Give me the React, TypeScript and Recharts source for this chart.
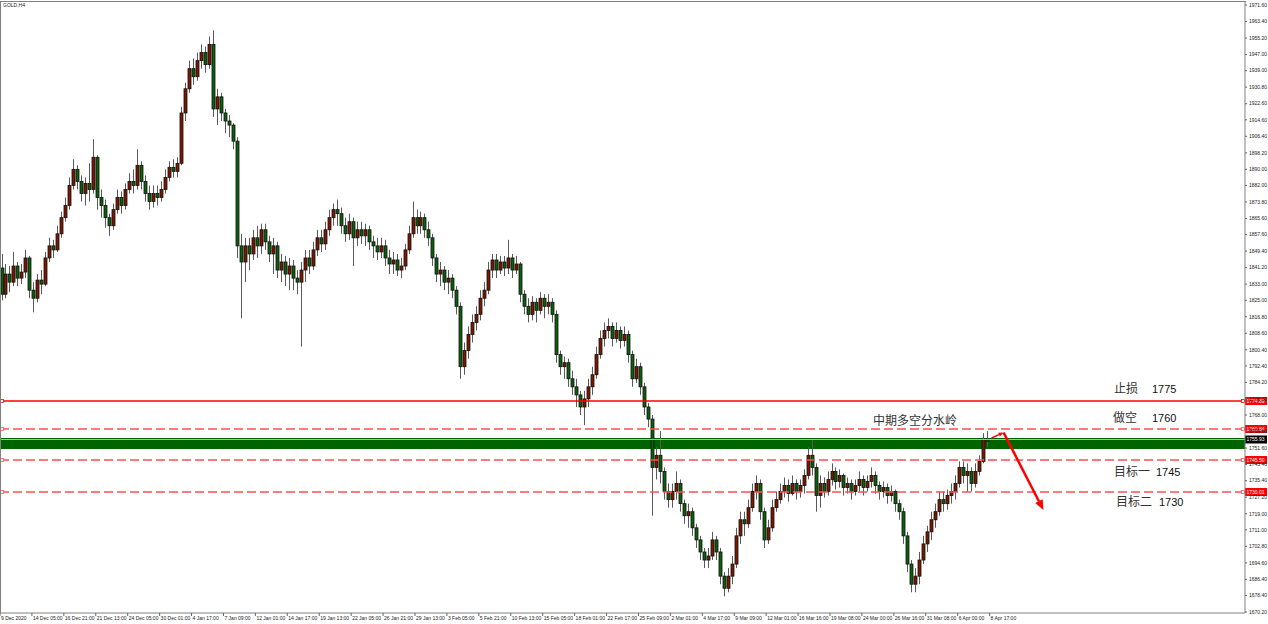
import { ComposedChart, Bar, XAxis, YAxis, ReferenceLine, ReferenceArea } from 'recharts'

// GOLD H4, one slot per candle
const FIRST_OPEN = 1841
const CLOSES = [
  1828, 1838, 1834, 1842, 1836, 1839, 1846, 1830, 1826, 1835,
  1833, 1846, 1852, 1850, 1858, 1866, 1872, 1882, 1890, 1884,
  1878, 1883, 1880, 1896, 1876, 1872, 1866, 1862, 1870, 1876,
  1872, 1880, 1884, 1882, 1892, 1884, 1878, 1874, 1878, 1876,
  1880, 1886, 1891, 1889, 1893, 1918, 1930, 1940, 1936, 1944,
  1948, 1942, 1952, 1920, 1926, 1918, 1914, 1912, 1904, 1852,
  1844, 1852, 1848, 1856, 1852, 1860, 1854, 1848, 1852, 1840,
  1844, 1838, 1842, 1836, 1834, 1840, 1846, 1842, 1850, 1856,
  1853, 1860, 1866, 1870, 1868, 1862, 1858, 1864, 1856, 1860,
  1857, 1860, 1854, 1852, 1849, 1852, 1846, 1843, 1845, 1840,
  1842, 1850, 1858, 1866, 1862, 1866, 1860, 1856, 1846, 1838,
  1840, 1834, 1836, 1830, 1822, 1792, 1800, 1808, 1814, 1818,
  1826, 1830, 1840, 1845, 1840, 1844, 1841, 1846, 1840, 1843,
  1828, 1822, 1818, 1824, 1820, 1826, 1822, 1824, 1818, 1798,
  1792, 1794, 1786, 1782, 1778, 1772, 1776, 1782, 1788, 1798,
  1806, 1810, 1812, 1806, 1810, 1805, 1808, 1798, 1786, 1792,
  1782, 1772, 1766, 1742, 1748, 1740, 1730, 1726, 1730, 1734,
  1724, 1718, 1720, 1712, 1706, 1700, 1696, 1698, 1706, 1700,
  1688, 1682, 1688, 1694, 1708, 1716, 1714, 1722, 1730, 1734,
  1720, 1706, 1712, 1722, 1726, 1730, 1733, 1729, 1734, 1730,
  1733, 1738, 1748, 1742, 1728, 1734, 1730, 1736, 1740, 1735,
  1738, 1732, 1734, 1730, 1733, 1736, 1732, 1735, 1738, 1733,
  1730, 1732, 1728, 1730, 1724, 1720, 1708, 1694, 1684, 1688,
  1696, 1704, 1710, 1716, 1720, 1726, 1724, 1728, 1730, 1734,
  1742, 1738, 1740, 1734, 1740, 1745, 1756, 1755,
]
const HIGHS = [
  1848, 1843, 1842, 1849, 1844, 1843, 1850, 1847, 1834, 1838,
  1840, 1849, 1856, 1855, 1862, 1869, 1876, 1886, 1895, 1892,
  1887, 1886, 1893, 1905, 1897, 1880, 1875, 1868, 1873, 1880,
  1879, 1883, 1888, 1890, 1900, 1894, 1887, 1882, 1882, 1882,
  1884, 1890, 1894, 1895, 1896, 1921, 1933, 1944, 1945, 1948,
  1952, 1951, 1956, 1959, 1930, 1928, 1920, 1917, 1913, 1906,
  1858, 1856, 1856, 1860, 1862, 1863, 1863, 1857, 1856, 1854,
  1848, 1847, 1846, 1845, 1840, 1844, 1850, 1850, 1854, 1860,
  1860, 1864, 1870, 1873, 1875, 1871, 1866, 1868, 1866, 1864,
  1864, 1863, 1862, 1857, 1856, 1856, 1855, 1850, 1849, 1848,
  1846, 1853, 1862, 1874, 1870, 1869, 1868, 1864, 1858, 1848,
  1844, 1842, 1840, 1838, 1832, 1824, 1804, 1812, 1818, 1822,
  1830, 1834, 1844, 1848, 1848, 1847, 1847, 1855, 1848, 1847,
  1844, 1830, 1826, 1827, 1826, 1829, 1828, 1828, 1826, 1820,
  1800, 1797, 1796, 1790, 1786, 1780, 1780, 1786, 1792, 1802,
  1810, 1814, 1816, 1814, 1814, 1812, 1812, 1810, 1800, 1796,
  1794, 1784, 1774, 1768, 1752, 1760, 1742, 1734, 1734, 1740,
  1736, 1726, 1724, 1722, 1714, 1708, 1702, 1702, 1710, 1708,
  1702, 1690, 1692, 1698, 1712, 1720, 1720, 1726, 1734, 1738,
  1736, 1722, 1716, 1726, 1730, 1734, 1737, 1736, 1738, 1736,
  1736, 1741, 1752, 1756, 1744, 1738, 1737, 1740, 1744, 1742,
  1741, 1739, 1737, 1736, 1736, 1740, 1738, 1738, 1742, 1740,
  1735, 1735, 1734, 1733, 1731, 1726, 1722, 1710, 1696, 1692,
  1700, 1708, 1713, 1720, 1724, 1730, 1730, 1731, 1734, 1738,
  1745, 1745, 1744, 1742, 1744, 1748, 1759, 1760,
]
const LOWS = [
  1825, 1826, 1829, 1832, 1832, 1833, 1836, 1826, 1819, 1824,
  1828, 1832, 1844, 1846, 1849, 1856, 1864, 1870, 1880, 1880,
  1874, 1872, 1874, 1878, 1870, 1866, 1861, 1857, 1860, 1868,
  1868, 1870, 1878, 1878, 1880, 1880, 1874, 1870, 1871, 1872,
  1874, 1878, 1884, 1886, 1886, 1892, 1914, 1928, 1932, 1934,
  1940, 1938, 1940, 1916, 1912, 1914, 1908, 1906, 1900, 1846,
  1816, 1834, 1840, 1845, 1846, 1848, 1850, 1844, 1838, 1836,
  1834, 1832, 1830, 1830, 1828, 1802, 1834, 1838, 1840, 1847,
  1849, 1850, 1857, 1862, 1862, 1858, 1854, 1855, 1842, 1852,
  1853, 1852, 1850, 1846, 1845, 1846, 1842, 1838, 1838, 1837,
  1836, 1840, 1848, 1856, 1858, 1858, 1856, 1852, 1842, 1834,
  1832, 1830, 1828, 1826, 1818, 1786, 1788, 1796, 1804, 1810,
  1815, 1822, 1828, 1836, 1836, 1838, 1837, 1838, 1836, 1838,
  1824, 1818, 1814, 1815, 1814, 1818, 1816, 1818, 1814, 1794,
  1788, 1786, 1782, 1778, 1772, 1768, 1763, 1772, 1778, 1786,
  1796, 1802, 1806, 1802, 1804, 1801, 1802, 1794, 1782, 1784,
  1778, 1768, 1762, 1718, 1736, 1734, 1726, 1722, 1722, 1726,
  1720, 1714, 1712, 1708, 1702, 1696, 1692, 1692, 1696, 1696,
  1684, 1678, 1680, 1684, 1692, 1704, 1708, 1712, 1720, 1726,
  1716, 1702, 1704, 1710, 1720, 1724, 1727, 1725, 1728, 1726,
  1727, 1729, 1736, 1738, 1720, 1722, 1727, 1728, 1733, 1731,
  1732, 1728, 1729, 1726, 1728, 1730, 1728, 1730, 1732, 1729,
  1726, 1727, 1724, 1725, 1720, 1716, 1704, 1690, 1680, 1680,
  1684, 1694, 1700, 1706, 1712, 1718, 1720, 1721, 1724, 1726,
  1732, 1734, 1730, 1730, 1732, 1738, 1744, 1752,
]

const SLOTS = 312 // candles + empty shift on the right
const LABEL_EVERY = 8

const X_LABELS = [
  '9 Dec 2020', '14 Dec 05:00', '16 Dec 21:00', '21 Dec 13:00', '24 Dec 05:00', '30 Dec 01:00',
  '4 Jan 17:00', '7 Jan 09:00', '12 Jan 01:00', '14 Jan 17:00', '19 Jan 13:00', '22 Jan 05:00',
  '26 Jan 21:00', '29 Jan 13:00', '3 Feb 05:00', '5 Feb 21:00', '10 Feb 13:00', '15 Feb 05:00',
  '18 Feb 01:00', '22 Feb 17:00', '25 Feb 09:00', '2 Mar 01:00', '4 Mar 17:00', '9 Mar 09:00',
  '12 Mar 01:00', '16 Mar 16:00', '19 Mar 08:00', '24 Mar 00:00', '26 Mar 16:00', '31 Mar 08:00',
  '6 Apr 00:00', '8 Apr 17:00',
]
const Y_TICKS = [
  1971.6, 1963.4, 1955.2, 1947.0, 1939.0, 1930.8, 1922.6, 1914.6, 1906.4, 1898.2,
  1890.0, 1882.0, 1873.8, 1865.6, 1857.6, 1849.4, 1841.2, 1833.0, 1825.0, 1816.8,
  1808.6, 1800.4, 1792.4, 1784.2, 1776.0, 1768.0, 1759.8, 1751.6, 1743.4, 1735.4,
  1727.2, 1719.0, 1711.0, 1702.8, 1694.6, 1686.4, 1678.4, 1670.2,
]
const Y_DOMAIN = [1669.7, 1973.1]

const STOP = 1774.89
const SHORT = 1760.84
const TARGET1 = 1745.5
const TARGET2 = 1730.01
const BID = 1755.93
const ZONE = [1751.1, 1756.6]
const ARROW_PTS = [
  { x: 248, y: 1756.6 },
  { x: 251, y: 1759.3 },
  { x: 261, y: 1720.8 },
]

const data = Array.from({ length: SLOTS }, (_, i) => {
  if (i >= CLOSES.length) return { i, range: null }
  const open = i === 0 ? FIRST_OPEN : CLOSES[i - 1]
  const close = CLOSES[i]
  const high = Math.max(HIGHS[i], open, close)
  const low = Math.min(LOWS[i], open, close)
  return { i, open, close, high, low, range: [low, high] }
})

const SMALL = { fontFamily: 'Liberation Sans, Arial, sans-serif', fontSize: 5 }
const CJK = 'Noto Sans CJK SC, sans-serif'
const NUM = 'Liberation Sans, Arial, sans-serif'

const Candle = (props: any) => {
  const { x, y, width, height, payload } = props
  if (!payload || payload.range == null) return null
  const { open, close, high, low } = payload
  const h = Math.abs(height)
  const top = height >= 0 ? y : y + height
  const k = high === low ? 0 : h / (high - low)
  const yO = top + (high - open) * k
  const yC = top + (high - close) * k
  const cx = Math.round(x + width / 2) + 0.5
  const up = close >= open
  return (
    <g>
      <line x1={cx} x2={cx} y1={top} y2={top + h} stroke="#5a5a5a" strokeWidth={1} />
      <rect
        x={cx - 1.5}
        y={Math.min(yO, yC)}
        width={3}
        height={Math.max(Math.abs(yO - yC), 1)}
        fill={up ? '#7a1800' : '#0d5f0d'}
        stroke="#111"
        strokeWidth={0.8}
      />
    </g>
  )
}

const XTick = ({ x, y, payload }: any) => {
  const label = X_LABELS[payload.value / LABEL_EVERY]
  if (payload.value % LABEL_EVERY !== 0 || !label) return null
  return (
    <g>
      <line x1={x - 2} x2={x - 2} y1={y} y2={y + 3} stroke="#666" />
      <text x={x - 1} y={y + 7} {...SMALL} fill="#222">{label}</text>
    </g>
  )
}

const YTick = ({ x, y, payload }: any) => (
  <g>
    <line x1={x} x2={x + 2} y1={y} y2={y} stroke="#666" />
    <text x={x + 4} y={y + 1.8} {...SMALL} fill="#222">{Number(payload.value).toFixed(2)}</text>
  </g>
)

type Note = { dx: number; dy: number; text: string; size: number; font: string; color: string }

const note = (dx: number, dy: number, text: string, cjk: boolean): Note => ({
  dx, dy, text, size: cjk ? 12 : 11, font: cjk ? CJK : NUM, color: cjk ? '#333' : '#111',
})

const levelShape = (color: string, dash: string | undefined, tag: string, notes: Note[]) => (p: any) => {
  const xl = Math.min(p.x1, p.x2)
  const xr = Math.max(p.x1, p.x2)
  const yy = Math.round(p.y1)
  return (
    <g>
      <line x1={xl} y1={yy} x2={xr} y2={yy} stroke={color} strokeWidth={1.6} strokeDasharray={dash} />
      <rect x={xl + 0.5} y={yy - 1.5} width={3} height={3} fill="#fff" stroke={color} strokeWidth={0.8} />
      <rect x={xr - 3.5} y={yy - 1.5} width={3} height={3} fill="#fff" stroke={color} strokeWidth={0.8} />
      <rect x={xr} y={yy - 4} width={22} height={8} fill="#ff0000" />
      <text x={xr + 1.5} y={yy + 1.8} {...SMALL} fill="#fff">{tag}</text>
      {notes.map((n, k) => (
        <text key={k} x={xl + n.dx} y={yy + n.dy} fontFamily={n.font} fontSize={n.size} fill={n.color}>
          {n.text}
        </text>
      ))}
    </g>
  )
}

const bidShape = (p: any) => {
  const xl = Math.min(p.x1, p.x2)
  const xr = Math.max(p.x1, p.x2)
  const yy = Math.round(p.y1) + 0.5
  return (
    <g>
      <line x1={xl} y1={yy} x2={xr} y2={yy} stroke="#9fc49f" strokeWidth={1} />
      <rect x={xr} y={yy - 4} width={22} height={8} fill="#000" />
      <text x={xr + 1.5} y={yy + 1.8} {...SMALL} fill="#fff">{BID.toFixed(2)}</text>
    </g>
  )
}

const arrowShape = (w: number, head: number) => (p: any) => {
  const { x1, y1, x2, y2 } = p
  const a = Math.atan2(y2 - y1, x2 - x1)
  const bx = x2 - head * Math.cos(a)
  const by = y2 - head * Math.sin(a)
  const nx = -Math.sin(a) * head * 0.42
  const ny = Math.cos(a) * head * 0.42
  return (
    <g>
      <line x1={x1} y1={y1} x2={bx} y2={by} stroke="#ff0000" strokeWidth={w} />
      <polygon points={`${x2},${y2} ${bx + nx},${by + ny} ${bx - nx},${by - ny}`} fill="#ff0000" />
    </g>
  )
}

export default function App() {
  return (
    <div style={{ position: 'relative', width: 1268, height: 624, background: '#fff' }}>
      <style>{'body{margin:0;background:#fff}'}</style>
      <ComposedChart
        width={1268}
        height={624}
        data={data}
        margin={{ top: 2, right: 0, bottom: 0, left: 0 }}
        barCategoryGap={0}
      >
        <XAxis
          dataKey="i"
          type="category"
          interval={LABEL_EVERY - 1}
          tick={XTick}
          tickLine={false}
          tickSize={0}
          tickMargin={0}
          height={11}
          axisLine={{ stroke: '#808080' }}
        />
        <YAxis
          orientation="right"
          width={23}
          type="number"
          domain={Y_DOMAIN}
          allowDataOverflow
          ticks={Y_TICKS}
          interval={0}
          tick={YTick}
          tickLine={false}
          tickSize={0}
          tickMargin={0}
          axisLine={{ stroke: '#808080' }}
        />
        <ReferenceArea y1={ZONE[0]} y2={ZONE[1]} fill="#006400" fillOpacity={1} stroke="none" ifOverflow="visible" />
        <ReferenceLine y={BID} shape={bidShape} ifOverflow="visible" />
        <Bar dataKey="range" shape={Candle} barSize={3} isAnimationActive={false} />
        <ReferenceLine
          y={STOP}
          ifOverflow="visible"
          shape={levelShape('#ff0000', undefined, STOP.toFixed(2), [note(1114, -8.5, '止损', true), note(1152, -8.5, '1775', false)])}
        />
        <ReferenceLine
          y={SHORT}
          ifOverflow="visible"
          shape={levelShape('#ff5050', '9 4', SHORT.toFixed(2), [
            note(1113, -7, '做空', true),
            note(1152, -7, '1760', false),
            note(873, -4, '中期多空分水岭', true),
          ])}
        />
        <ReferenceLine
          y={TARGET1}
          ifOverflow="visible"
          shape={levelShape('#ff5050', '9 4', TARGET1.toFixed(2), [note(1114, 15.5, '目标一', true), note(1156, 15.5, '1745', false)])}
        />
        <ReferenceLine
          y={TARGET2}
          ifOverflow="visible"
          shape={levelShape('#ff5050', '9 4', TARGET2.toFixed(2), [note(1116, 13.5, '目标二', true), note(1159, 13.5, '1730', false)])}
        />
        <ReferenceLine segment={[ARROW_PTS[0], ARROW_PTS[1]]} ifOverflow="visible" shape={arrowShape(1.5, 5)} />
        <ReferenceLine segment={[ARROW_PTS[1], ARROW_PTS[2]]} ifOverflow="visible" shape={arrowShape(2.5, 10)} />
      </ComposedChart>
      <div
        style={{
          position: 'absolute', left: 0, top: 1, width: 1245, height: 612,
          borderTop: '1px solid #808080', borderLeft: '1px solid #808080', pointerEvents: 'none',
        }}
      />
      <svg width={60} height={10} style={{ position: 'absolute', left: 0, top: 0 }}>
        <text x={3} y={7} {...SMALL} fill="#222">GOLD,H4</text>
      </svg>
    </div>
  )
}
